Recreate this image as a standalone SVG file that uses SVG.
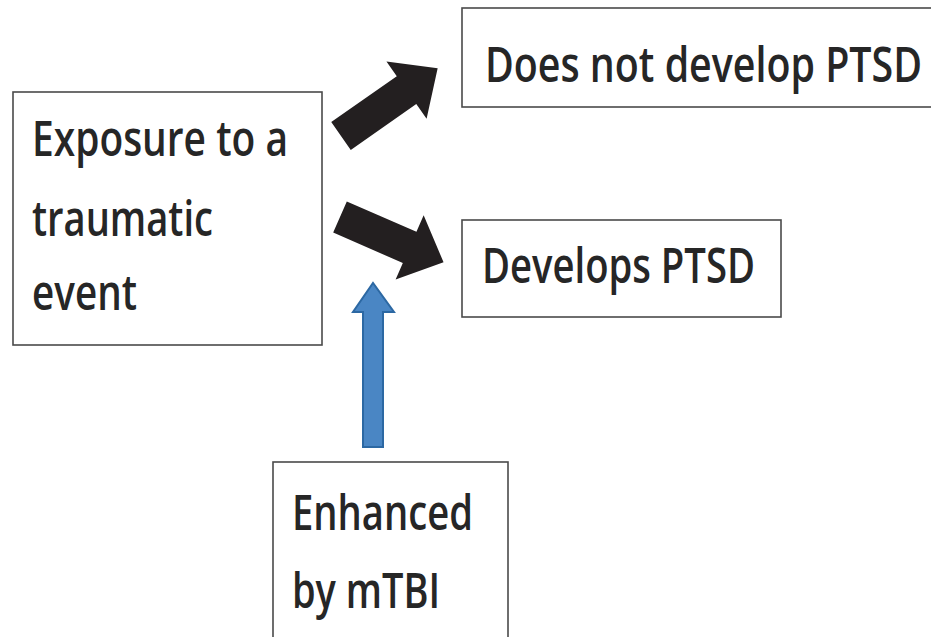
<svg xmlns="http://www.w3.org/2000/svg" width="931" height="637" viewBox="0 0 931 637">
<style>
.box{fill:#fff;stroke:#4a4a4a;stroke-width:1.6}
.t{font-family:"Open Sans","Liberation Sans",Arial,sans-serif;font-size:49px;font-weight:600;fill:#262626;}
.blk{fill:#231f20}
.blue{fill:#4a86c4;stroke:#2c68a3;stroke-width:2}
</style>
<rect width="931" height="637" fill="#fff"/>
<g id="exposure">
<rect class="box" x="13" y="92" width="309" height="253"/>
<text class="t" x="32" y="156" textLength="256" lengthAdjust="spacingAndGlyphs">Exposure to a</text>
<text class="t" x="32" y="236" textLength="181" lengthAdjust="spacingAndGlyphs">traumatic</text>
<text class="t" x="32" y="310" textLength="105" lengthAdjust="spacingAndGlyphs">event</text>
</g>
<g id="no-ptsd">
<rect class="box" x="462" y="8" width="480" height="99"/>
<text class="t" x="485" y="82" textLength="437" lengthAdjust="spacingAndGlyphs">Does not develop PTSD</text>
</g>
<g id="ptsd">
<rect class="box" x="462" y="220" width="319" height="97"/>
<text class="t" x="482" y="283" textLength="273" lengthAdjust="spacingAndGlyphs">Develops PTSD</text>
</g>
<g id="mtbi">
<rect class="box" x="273" y="462" width="235" height="190"/>
<text class="t" x="292" y="530" textLength="181" lengthAdjust="spacingAndGlyphs">Enhanced</text>
<text class="t" x="292" y="608" textLength="148" lengthAdjust="spacingAndGlyphs">by mTBI</text>
</g>
<g id="connectors">
<polygon class="blk" transform="translate(341,136) rotate(-35)" points="0,-17 80,-17 80,-35 118,0 80,35 80,17 0,17"/>
<polygon class="blk" transform="translate(340,217) rotate(23.6)" points="0,-17 76,-17 76,-35 113,0 76,35 76,17 0,17"/>
<polygon class="blue" points="363,447 363,312 353,312 373,283 394,312 383,312 383,447"/>
</g>
</svg>
